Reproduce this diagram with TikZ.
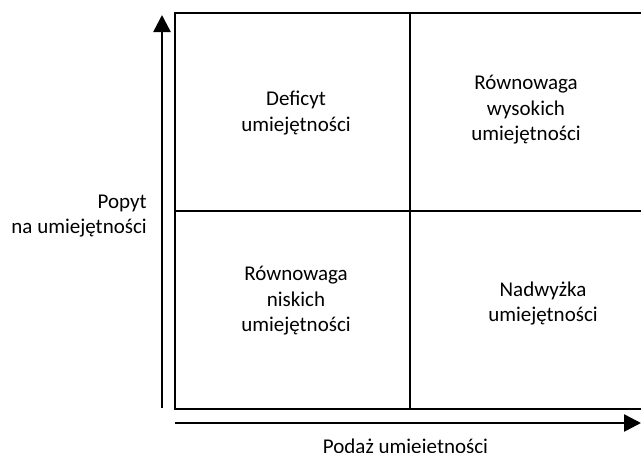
\documentclass[tikz,border=0pt]{standalone}
\usepackage{fontspec}
\setmainfont{Carlito}
\usetikzlibrary{arrows.meta}
\begin{document}
\begin{tikzpicture}[x=1pt,y=-1pt,
  lbl/.style={inner sep=0pt,align=center,font=\fontsize{21}{25.6}\selectfont},
  gridline/.style={line width=1.6pt},
  axis/.style={line width=2.6pt,-{Triangle[length=17pt,width=17pt]}}]
\useasboundingbox (0,0) rectangle (641,453);
% grid
\draw[gridline] (175,13) rectangle (646,409);
\draw[gridline] (410,13) -- (410,409);
\draw[gridline] (175,211) -- (646,211);
% axes
\coordinate (ybot) at (162,408);
\coordinate (ytop) at (162,15);
\coordinate (xl) at (175,423);
\coordinate (xr) at (641,423);
\draw[axis] (ybot) -- (ytop);
\draw[axis] (xl) -- (xr);
% labels
\node[lbl] (tl) at (296,113) {Deficyt\\umiejętności};
\node[lbl] (tr) at (526,110) {Równowaga\\wysokich\\umiejętności};
\node[lbl] (bl) at (296,301) {Równowaga\\niskich\\umiejętności};
\node[lbl] (br) at (543,303.5) {Nadwyżka\\umiejętności};
\node[lbl,align=right,anchor=east] (ylab) at (147,216) {Popyt\\na umiejętności};
\node[lbl,anchor=base] (xlab) at (405.5,453) {Podaż umiejętności};
\end{tikzpicture}
\end{document}
